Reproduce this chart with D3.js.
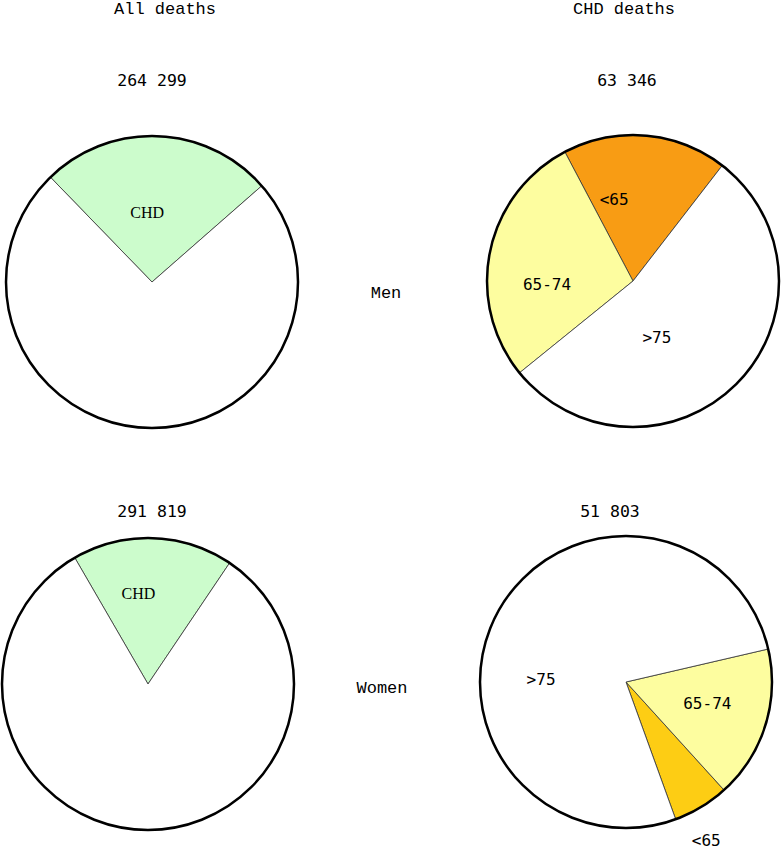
<!DOCTYPE html>
<html>
<head>
<meta charset="utf-8">
<script src="https://cdn.jsdelivr.net/npm/d3@7"></script>
<style>
  body { margin: 0; background: #fff; }
  .title { font-family: 'Liberation Mono', monospace; font-size: 17px; }
  .total { font-family: 'DejaVu Sans Mono', monospace; font-size: 16.5px; }
  .row { font-family: 'Liberation Mono', monospace; font-size: 17px; }
  .chd { font-family: 'Liberation Serif', serif; font-size: 16px; }
  .age { font-family: 'DejaVu Sans Mono', monospace; font-size: 16px; }
</style>
</head>
<body>
<div id="canvas"></div>
<script>
// data
var panelTitles = ['All deaths', 'CHD deaths'];
var rowLabels = ['Men', 'Women'];
var totalsMen = ['264 299', '63 346'];
var totalsWomen = ['291 819', '51 803'];

var allCats = ['CHD', 'Other'];
var menAllShares = [25.8, 74.2];   // % of all deaths (slice as drawn)
var womenAllShares = [17.8, 82.2];

var ageCats = ['<65', '65-74', '>75'];
var menAgeShares = [18.2, 28.1, 53.7];   // % of CHD deaths
var womenAgeShares = [6.2, 16.9, 76.9];

var fills = {
  'CHD': '#ccfccc', 'Other': '#ffffff',
  '65-74': '#fdfd9f', '>75': '#ffffff'
};
var under65Men = '#f89c14', under65Women = '#fdcd14';

var W = 782, H = 853, R = 146;

var svg = d3.select('#canvas')
  .append('svg')
  .attr('width', W)
  .attr('height', H);

var deg = Math.PI / 180;
var arc = d3.arc().innerRadius(0).outerRadius(R);

// pie layout: start angle (deg), direction, label spots [angle, radius]
var pies = [
  {cx: 152, cy: 282, cats: allCats, vals: menAllShares, start: -44.1, dir: 1, u65: null,
   labels: {'CHD': [-4, 70]}},
  {cx: 633, cy: 281, cats: ageCats, vals: menAgeShares, start: 37.7, dir: -1, u65: under65Men,
   labels: {'<65': [-13, 84], '65-74': [-92, 86], '>75': [157, 61]}},
  {cx: 148, cy: 684, cats: allCats, vals: womenAllShares, start: -30.1, dir: 1, u65: null,
   labels: {'CHD': [-6, 91]}},
  {cx: 626, cy: 682, cats: ageCats, vals: womenAgeShares, start: 160.1, dir: -1, u65: under65Women,
   labels: {'>75': [-88, 85], '65-74': [104.5, 84], '<65': [153.2, 178]}}
];

pies.forEach(function(p){
  var g = svg.append('g')
    .attr('transform', 'translate(' + p.cx + ',' + p.cy + ')');

  var pie = d3.pie()
    .sort(null)
    .startAngle(p.start * deg)
    .endAngle(p.start * deg + p.dir * 2 * Math.PI);

  var data = p.cats.map(function(c, i){ return {cat: c, val: p.vals[i]}; });

  g.selectAll('.slice')
    .data(pie.value(function(d){ return d.val; })(data))
    .enter()
    .append('path')
    .attr('class', 'slice')
    .attr('d', arc)
    .attr('fill', function(d){
      return d.data.cat == '<65' ? p.u65 : fills[d.data.cat];
    })
    .attr('stroke', '#333')
    .attr('stroke-width', 0.8);

  g.append('circle')
    .attr('r', R)
    .attr('fill', 'none')
    .attr('stroke', '#000')
    .attr('stroke-width', 2.5);

  p.cats.forEach(function(c){
    var lp = p.labels[c];
    if (!lp) return;
    var a = lp[0] * deg;
    g.append('text')
      .attr('class', c == 'CHD' ? 'chd' : 'age')
      .attr('x', Math.sin(a) * lp[1])
      .attr('y', -Math.cos(a) * lp[1])
      .attr('dy', '0.35em')
      .style('text-anchor', 'middle')
      .text(c);
  });
});

// column titles
var titleX = [165, 624];
panelTitles.forEach(function(t, i){
  svg.append('text')
    .attr('class', 'title')
    .attr('x', titleX[i])
    .attr('y', 14)
    .style('text-anchor', 'middle')
    .text(t);
});

// totals
var totalX = [[152, 627], [152, 610]];
[totalsMen, totalsWomen].forEach(function(row, r){
  row.forEach(function(t, i){
    svg.append('text')
      .attr('class', 'total')
      .attr('x', totalX[r][i])
      .attr('y', r == 0 ? 86 : 517)
      .style('text-anchor', 'middle')
      .text(t);
  });
});

// row labels
var rowY = [298, 693], rowX = [386, 382];
rowLabels.forEach(function(t, i){
  svg.append('text')
    .attr('class', 'row')
    .attr('x', rowX[i])
    .attr('y', rowY[i])
    .style('text-anchor', 'middle')
    .text(t);
});
</script>
</body>
</html>
